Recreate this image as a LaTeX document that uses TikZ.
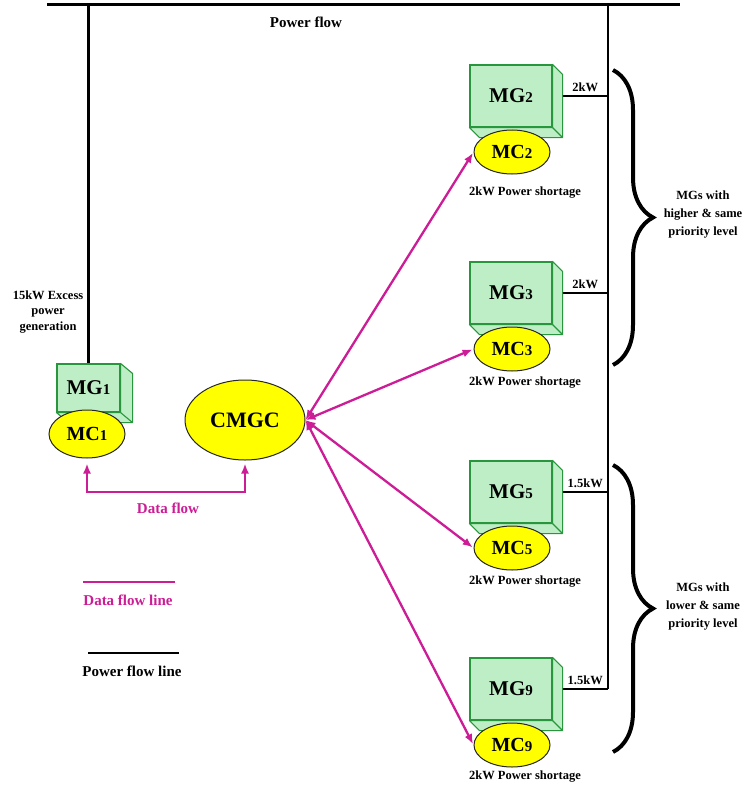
\documentclass[tikz,border=0pt]{standalone}
\usepackage{fontspec}
\setmainfont{Liberation Serif}
\usetikzlibrary{shapes.geometric,decorations.pathreplacing,arrows.meta}

\definecolor{dataflow}{RGB}{204,28,150}
\definecolor{mgfill}{RGB}{190,238,198}
\definecolor{mgedge}{RGB}{40,150,60}
\definecolor{mcfill}{RGB}{255,255,0}

\tikzset{
	mgbox/.style={draw=mgedge, fill=mgfill, line width=1.1pt, inner sep=0pt,
		minimum width=82pt, minimum height=62pt, font=\fontsize{21}{21}\selectfont\bfseries},
	mgside/.style={draw=mgedge, fill=mgfill, line width=1.1pt, line join=round},
	mcell/.style={ellipse, draw=black!85, fill=mcfill, line width=1pt, inner sep=0pt,
		minimum width=76pt, minimum height=44pt, font=\fontsize{20}{20}\selectfont\bfseries},
	dataline/.style={draw=dataflow, line width=2.3pt},
	dataarrow/.style={dataline, {Latex[length=10pt,width=8pt]}-{Latex[length=10pt,width=8pt]}},
	powerline/.style={draw=black, line width=2.4pt},
	lbl/.style={font=\fontsize{12.5}{14}\selectfont\bfseries, inner sep=0pt},
	biglbl/.style={font=\fontsize{15}{17}\selectfont\bfseries, inner sep=0pt},
	bigbrace/.style={decorate, decoration={brace, amplitude=40pt}, line width=4pt}
}

\newcommand{\smalldigit}[1]{{\fontsize{15}{15}\selectfont #1}}

\begin{document}
\begin{tikzpicture}[x=1pt, y=-1pt]
	
	\useasboundingbox (0,0) rectangle (745,789);
	
	% Bus
	\coordinate (busL) at (47,5);
	\coordinate (busR) at (680,5);
	\coordinate (feedtop) at (608,5);
	\draw[powerline, line width=3pt] (busL) -- (busR);
	\node[biglbl] (pflabel) at (306,22) {Power flow};
	
	% MG1 with its controller
	\node[mgbox, minimum width=63pt, minimum height=48pt] (mg1) at (88.5,388) {MG\smalldigit{1}};
	\draw[mgside] (mg1.north east) -- ++(12,10) -- ([shift={(12,10)}]mg1.south east)
		-- ([shift={(12,10)}]mg1.south west) -- (mg1.south west) -- (mg1.south east) -- cycle;
	\draw[mgside] (mg1.south east) -- ++(12,10);
	\node[mcell, minimum height=48pt] (mc1) at (87,434) {MC\smalldigit{1}};
	\draw[powerline] (mg1.north |- busL) -- (mg1.north);
	\node[lbl, align=center, font=\fontsize{12.5}{15.5}\selectfont\bfseries] (excess) at (48,312)
		{15kW Excess\\power\\generation};
	
	% Central controller
	\node[mcell, minimum width=120pt, minimum height=80pt, font=\fontsize{22}{22}\selectfont\bfseries]
		(cmgc) at (245,420) {CMGC};
	
	% Data flow MC1 - CMGC
	\coordinate (dfl) at (0,492);
	\draw[dataarrow, shorten <=5pt, shorten >=3pt] (mc1.south)
		-- (mc1.south |- dfl) -| (cmgc.south);
	\node[biglbl, text=dataflow] (dflabel) at (168,508) {Data flow};
	
	% MGs on the right
	\draw[powerline] (feedtop) -- (feedtop |- 0,689);
	\foreach \n/\y/\k/\ly in {2/96/2kW/193, 3/293/2kW/383, 5/492/1.5kW/582, 9/689/1.5kW/777}{
		\node[mgbox] (mg\n) at (511,\y) {MG\smalldigit{\n}};
		\draw[mgside] (mg\n.north east) -- ++(10,10) -- ([shift={(10,10)}]mg\n.south east)
			-- ([shift={(10,10)}]mg\n.south west) -- (mg\n.south west) -- (mg\n.south east) -- cycle;
		\draw[mgside] (mg\n.south east) -- ++(10,10);
		\node[mcell] (mc\n) at (512,\y+56) {MC\smalldigit{\n}};
		\node[lbl] (short\n) at (525,\ly) {2kW Power shortage};
		\draw[powerline] ([xshift=10pt]mg\n.east) -- (feedtop |- mg\n.east)
			node[midway, above=3pt, lbl] (kw\n) {\k};
		\draw[dataarrow, shorten >=1pt] (cmgc.east) -- (mc\n.west);
	}
	
	% Priority braces
	\coordinate (hiT) at (613,70);
	\coordinate (hiB) at (613,365);
	\coordinate (loT) at (613,465);
	\coordinate (loB) at (613,752);
	\draw[bigbrace] (hiT) -- (hiB);
	\draw[bigbrace] (loT) -- (loB);
	\node[lbl, align=center, font=\fontsize{12.5}{18}\selectfont\bfseries] (hilabel) at (703,215)
		{MGs with\\higher \& same\\priority level};
	\node[lbl, align=center, font=\fontsize{12.5}{18}\selectfont\bfseries] (lolabel) at (703,607)
		{MGs with\\lower \& same\\priority level};
	
	% Legend
	\coordinate (dlA) at (83,582);
	\coordinate (dlB) at (175,582);
	\coordinate (plA) at (88,653);
	\coordinate (plB) at (179,653);
	\draw[dataline, line width=2.6pt] (dlA) -- (dlB);
	\node[biglbl, text=dataflow] (dllabel) at (128,600) {Data flow line};
	\draw[powerline, line width=2.6pt] (plA) -- (plB);
	\node[biglbl] (pllabel) at (132,671) {Power flow line};
	
\end{tikzpicture}
\end{document}
